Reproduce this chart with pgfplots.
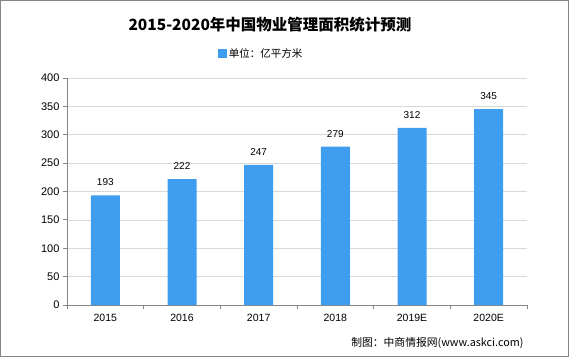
\documentclass[border=0pt]{standalone}
\usepackage{pgfplots}
\pgfplotsset{compat=1.18}
\usepackage{fontspec}
\setmainfont{Liberation Sans}
\newfontfamily\cjk{Noto Sans CJK SC}
\definecolor{barblue}{HTML}{3F9DF0}
\definecolor{axgray}{HTML}{868686}
\definecolor{gridgray}{HTML}{D9D9D9}
\begin{document}
\begin{tikzpicture}
\draw[draw=axgray,line width=1pt] (0.5pt,-0.5pt) rectangle (568.5pt,-356.5pt);
\node[font=\cjk\bfseries\fontsize{15.5}{18}\selectfont] at (270pt,-25pt) {2015-2020年中国物业管理面积统计预测};
\node[font=\cjk\fontsize{10.8}{12}\selectfont,anchor=east] at (527pt,-343pt) {制图：中商情报网(www.askci.com)};
\begin{axis}[
  at={(67pt,-305pt)}, anchor=south west,
  scale only axis, width=460pt, height=227pt,
  xmin=-0.5, xmax=5.5, ymin=0, ymax=400,
  ytick={0,50,...,400},
  xtick={0,...,5},
  xticklabels={2015,2016,2017,2018,2019E,2020E},
  minor xtick={-0.5,0.5,...,5.5},
  major x tick style={draw=none},
  tick align=outside,
  major tick length=4pt, minor tick length=4pt,
  axis x line*=bottom, axis y line*=left,
  axis line style={axgray,line width=0.8pt},
  tick style={axgray,line width=0.8pt},
  ymajorgrids, grid style={gridgray,line width=0.6pt},
  /pgf/number format/assume math mode=true,
  yticklabel style={font=\fontsize{11}{12}\selectfont},
  xticklabel style={font=\fontsize{10.5}{11}\selectfont, yshift=-2pt},
  ybar, bar width=29pt,
  nodes near coords,
  every node near coord/.append style={font=\fontsize{10}{11}\selectfont,black,yshift=6pt},
  legend style={at={(0.422,1.106)},anchor=center,draw=none,font=\cjk\fontsize{10.5}{12}\selectfont,inner sep=0pt},
  legend image code/.code={\fill[barblue] (0pt,-4.5pt) rectangle (9pt,4.5pt);},
]
\addplot[fill=barblue,draw=none] coordinates {(0,193) (1,222) (2,247) (3,279) (4,312) (5,345)};
\addlegendentry{单位：亿平方米}
\end{axis}
\end{tikzpicture}
\end{document}
